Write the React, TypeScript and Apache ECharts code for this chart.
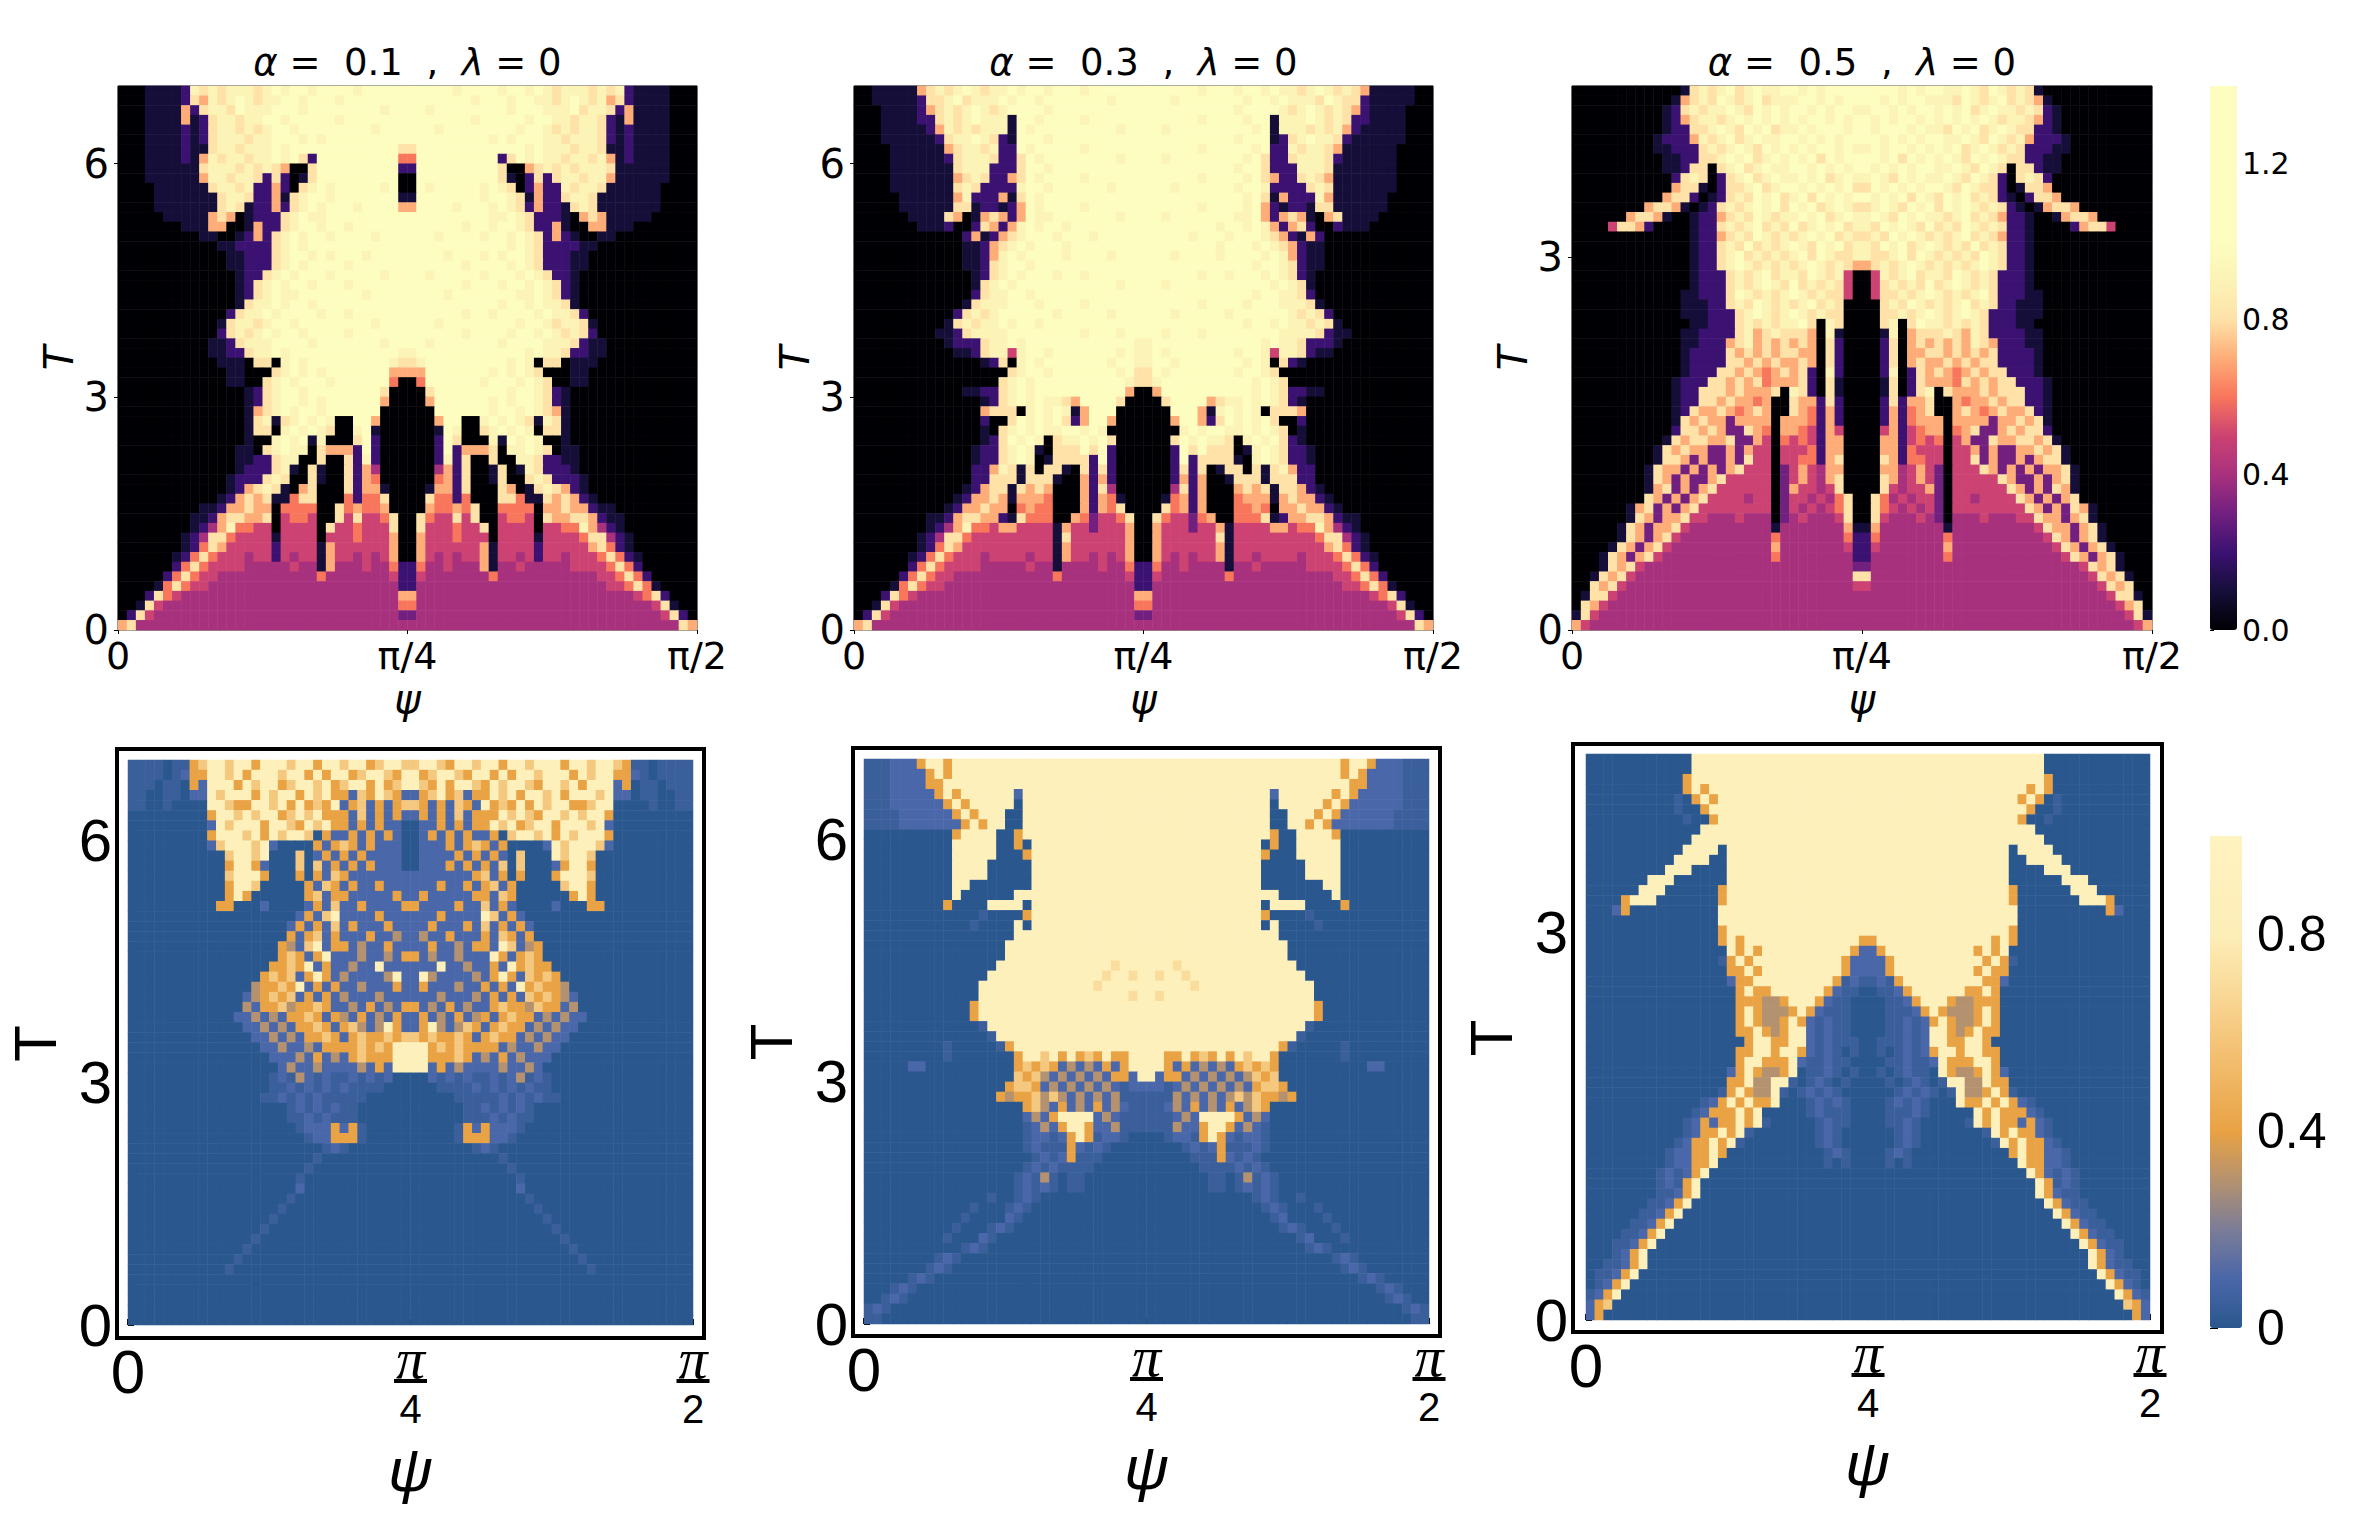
import React, { useEffect, useRef } from 'react';
import * as echarts from 'echarts';

// Cell codes: '.' = 0.05, digits = tenths, 'a' = top of the scale.
// Each panel is mirror-symmetric about psi = pi/4, so rows hold the left half only (32 cells).
const ALPHA_01 = [
  '00011112 98989998 9a9aa9aa aa9aaaaa', '00011112 87989a98 99aa9aaa 9aaaaaaa', '00011117 28998a99 9aaa9aaa aaaaa9aa', '00011117 12899899 aa9aaaaa 9aaaaaaa',
  '00011112 12899898 9aa9aaaa aaaa9aaa', '00011112 12899989 9aaa9a9a aaaaaaaa', '00011112 11899899 9a9aaaaa aaaaaaa8', '00011112 17989989 9a9a82aa aaaaaaa6',
  '00011111 18999898 987008aa aaaaaaa2', '00011111 17998998 282018aa aaaaaaa0', '00001111 11899892 272089a9 aaaaa9a0', '00001111 11189982 27189aa9 aaaaaaa1',
  '00001111 11189812 27289a9a aa9aaaa7', '00000111 11787012 2289a99a aaaaaaaa', '00000001 11770017 2289aa9a a9aaaaaa', '00000000 01100127 289a9aa9 aaaa9aaa',
  '00000000 00011222 289a9aaa aaaaaaaa', '00000000 00001122 289aa9a9 aaa9aaaa', '00000000 00001122 289a9aaa a9aaaaaa', '00000000 00000122 89a9aaa9 aaaaa9aa',
  '00000000 00000128 9a9aa9aa a9aaaaaa', '00000000 00000128 9a99aaaa aaa9aaaa', '00000000 00000189 9a9aa9aa aaaaaaaa', '00000000 00002899 a9aaaa9a a9aaaaaa',
  '00000000 00018998 9aa9aaaa aaaa9aaa', '00000000 00028989 a9aa9aaa a9aaaaaa', '00000000 00112899 9aaaa9aa aaaaa9aa', '00000000 00112289 9a9aaaaa aaaaaaa9',
  '00000000 00011108 809a9aaa aaaaaa98', '00000000 00001100 089a9a9a aaaaaa77', '00000000 00001100 89a9aaa9 aaaaaa60', '00000000 00000012 89aa9aaa aaaaa800',
  '00000000 00000012 89aa9a9a aaaaa700', '00000000 00000017 89a9aa9a aaaaa000', '00000000 00000018 9189a9a9 00aa7000', '00000000 00000018 809a9a98 009a1000',
  '00000000 00000010 09a9a190 008a2000', '00000000 00000110 89a99087 772a2000', '00000000 00000112 28990080 08292000', '00000000 00000122 28910810 08274000',
  '00000000 00001222 89800810 08276000', '00000000 00001278 98107800 08277100', '00000000 00012787 81168800 06266800', '00000000 01127787 70666600 86766700',
  '00000000 11278877 80566500 85855680', '00000000 12479665 50555508 55655580', '00000001 24886555 51555505 55655570', '00000001 26875555 52555517 55555570',
  '00000012 68655545 52545517 55454570', '00000026 86555544 44454417 44454462', '00000268 65544444 44444464 44444452', '00001686 55444444 44444444 44444442',
  '00028654 44444444 44444444 44444447', '00185444 44444444 44444444 44444446', '02854444 44444444 44444444 44444443', '78444444 44444444 44444444 44444444',
];

const ALPHA_03 = [
  '00111117 8989a989 9a9aa9aa a9aaaaaa', '00111112 889a8999 a9aa9aaa aaaa9aaa', '00011112 78989a98 9aaaa9aa aaaaaaaa', '00011112 28989a99 91aa9aaa a9aaaaaa',
  '00011111 27989899 91a9aaaa aaaaa9aa', '00011111 12899a98 21aaa9aa aaaaaaaa', '00001111 11789989 22a9aaaa a9aaaaaa', '00001111 11289998 228a9aaa aaaaa9aa',
  '00001111 11189992 228aa9aa aaaaaaaa', '00001111 11178982 278a9aaa a9aaaaaa', '00001111 11189822 229aa9aa aaaa9aaa', '00000111 11179222 718a9aaa aaaaaaaa',
  '00000111 11188122 127a9aaa a9aaaaaa', '00000011 11870178 727a99aa aaaaa9aa', '00000001 11200287 279a9aa9 aaaaaaaa', '00000000 00002712 789aaa9a aa9aaaaa',
  '00000000 00001127 89a9aaa9 aaaaaaaa', '00000000 00001127 9a9aaaa9 aaaa9aaa', '00000000 00001128 9aa9aaaa aaaaaaaa', '00000000 00000128 9a9aaa9a a9aaaaaa',
  '00000000 00000189 a9aaaaaa aaaaa9aa', '00000000 00000289 9aa9aaaa aaaaaaaa', '00000000 00001899 9aaa9aaa a9aaaaaa', '00000000 00028989 aaaaaa9a aaaa9aaa',
  '00000000 00189899 a9aa9aaa aaaaaaaa', '00000000 01128999 9aaaaaaa a9aaa9aa', '00000000 00122289 9a9aaaaa aaaaaaa9', '00000000 00011289 959aa9aa aaaaa9a9',
  '00000000 00000012 809a9aaa aaaa9aa9', '00000000 00000000 089aa9aa aaaaa9a8', '00000000 00000000 89a9aaaa aaaaaa98', '00000000 00001122 89a9aaaa aaaaaa70',
  '00000000 00000012 89a9a998 7aaaa800', '00000000 00000078 8809a9a9 17aaa000', '00000000 00000020 08a9a9a8 27aa7000', '00000000 00000010 89a9a99a a9a90000',
  '00000000 00000012 8a9a9089 9a9a8000', '00000000 00000122 89a91088 8a8a2000', '00000000 00000122 89a90188 882a2000', '00000000 00000227 98180881 08282000',
  '00000000 00000228 88188810 07272000', '00000000 00001278 81878700 07284000', '00000000 00012778 71777600 07276100', '00000000 00127787 70676600 07276800',
  '00000000 11278877 21866600 76355680', '00000000 12479665 77555517 55355570', '00000001 24886555 55555518 55555570', '00000001 26875555 55555517 55555570',
  '00000012 68655545 55545517 55454570', '00000026 86555544 44454414 44454462', '00000268 65544444 44444464 44444452', '00001686 55444444 44444444 44444442',
  '00028654 44444444 44444444 44444447', '00185444 44444444 44444444 44444446', '02854444 44444444 44444444 44444443', '78444444 44444444 44444444 44444444',
];

const ALPHA_05 = [
  '00000000 00001898 9a89a99a a9a9aaaa', '00000000 00017898 a989a899 9aa9a9aa', '00000000 00128989 9a98a9a9 aa9a9aa9', '00000000 00127899 89a9a9a9 a9aa9a9a',
  '00000000 00122889 a98a9a89 9a9aaa9a', '00000000 01222798 9a89a99a a9a9a9aa', '00000000 01122289 89a98a9a 9a9aa9a9', '00000000 00112288 9a9a89a9 a9a8a9aa',
  '00000000 00112880 89a89a99 aa9a9a9a', '00000000 00028980 289a89a9 9a9a89a9', '00000000 00078810 2889a89a a9a9a9a8', '00000000 00788201 2898a9a8 9a8a9a9a',
  '00000000 78871012 8989a9a8 a9a89a98', '00000078 87100122 7898a989 9a9a89a9', '00005887 20000122 8989a898 a89a9a89', '00000000 00000122 7898a989 89a9a898',
  '00000000 00000122 898a8989 a98a9a89', '00000000 00000122 89a89898 9a8a9889', '00000000 00000122 89a98989 89a98987', '00000000 00000122 28989a89 98a98950',
  '00000000 00000122 28989a98 a8989850', '00000000 00001122 28a98989 a9898850', '00000000 00001112 2898a989 89a89800', '00000000 00001112 2289a989 a9898800',
  '00000000 00000112 22898989 9a809800', '00000000 00001122 22897898 88709100', '00000000 00001122 27897878 78708200', '00000000 00001222 28787878 87708200',
  '00000000 00001222 28878787 78708200', '00000000 00001222 88787678 78209200', '00000000 00012228 87878677 78208100', '00000000 00012288 87877780 98208100',
  '00000000 00012288 78776700 87728200', '00000000 00012877 87678700 87627200', '00000000 00018787 73777707 77627200', '00000000 00028878 73387607 76527500',
  '00000000 00187887 78337506 56527700', '00000000 01878773 37375505 55627700', '00000000 01887373 37385505 56627800', '00000000 18773737 37855503 57547700',
  '00000000 18737337 85555503 57547800', '00000000 17837378 55555503 75545800', '00000000 87373785 55545503 55454680', '00000017 83737855 55555503 54545680',
  '00000018 73778554 44544403 45444580', '00000187 37785444 44444414 44444471', '00000187 37854444 44444464 44444462', '00001873 78544444 44444474 44444452',
  '00018737 85444444 44444464 44444442', '00018785 44444444 44444444 44444443', '00187854 44444444 44444444 44444448', '00878544 44444444 44444444 44444445',
  '01885444 44444444 44444444 44444444', '08754444 44444444 44444444 44444444', '18544444 44444444 44444444 44444444', '75444444 44444444 44444444 44444444',
];

const FRACTION_01 = [
  '....0..4 69969949 99699499 69946996', '....0.14 49969499 96994949 94699649', '...0..04 19994969 94699694 69949469', '..00..01 19699949 69949694 41649641',
  '..00.000 09964499 69494649 14614146', '00000000 04996969 94696944 41614141', '00000000 01969994 99649694 41414110', '00000000 04999694 96996041 14141410',
  '00000000 01699969 10000414 64141110', '00000000 00069969 00060141 41411110', '00000000 00049941 00060614 14141110', '00000000 00069994 00040416 41111111',
  '00000000 00049960 00004164 14114111', '00000000 00049400 00004614 41111141', '00000000 00440001 00001416 11411114', '00000000 00000000 00014169 11114111',
  '00000000 00000000 00141416 14111411', '00000000 00000000 00414614 11141131', '00000000 00000000 04316914 41311411', '00000000 00000000 04641491 11311314',
  '00000000 00000000 44649141 13119111', '00000000 00000004 64614941 31111391', '00000000 00000034 46491414 11311141', '00000000 00000134 64614141 31113111',
  '00000000 00000314 46344641 13141314', '00000000 00001131 31446414 31413141', '00000000 00000113 13144641 46313941', '00000000 00000011 31314464 14644646',
  '00000000 00000001 13113144 44646499', '00000000 00000000 11131413 14644499', '00000000 00000000 01311311 11314199', '00000000 00000000 .1.31.1. .1.1.100',
  '00000000 00000000 ..1.1.1. 1....000', '00000000 0000000. .1.1.1.. ...00000', '00000000 00000000 00.1.1.1 ..000000', '00000000 00000000 00..1.1. ..000000',
  '00000000 00000000 000.1114 14.00000', '00000000 00000000 0000.114 44.00000', '00000000 00000000 000000.1 .0000000', '00000000 00000000 00000.00 00000000',
  '00000000 00000000 0000.000 00000000', '00000000 00000000 000.0000 00000000', '00000000 00000000 00010000 00000000', '00000000 00000000 00.00000 00000000',
  '00000000 00000000 0.000000 00000000', '00000000 00000000 .0000000 00000000', '00000000 0000000. 00000000 00000000', '00000000 000000.0 00000000 00000000',
  '00000000 00000.00 00000000 00000000', '00000000 0000.000 00000000 00000000', '00000000 000.0000 00000000 00000000', '00000000 00000000 00000000 00000000',
  '00000000 00000000 00000000 00000000', '00000000 00000000 00000000 00000000', '00000000 00000000 00000000 00000000', '00000000 00000000 00000000 00000000',
];

const FRACTION_03 = [
  '...11149 94999999 99999999 99999999', '...11114 94999999 99999999 99999999', '...11114 49999999 99999999 99999999', '...11111 49499999 91999999 99999999',
  '...11111 14949999 90999999 99999999', '....1111 11494999 00999999 99999999', '....1111 11149499 00999999 99999999', '00000000 00499990 04999999 99999999',
  '00000000 00999990 04099999 99999999', '00000000 00999990 00499999 99999999', '00000000 00999900 00099999 99999999', '00000000 00999900 00099999 99999999',
  '00000000 00990000 00099999 99999999', '00000000 00900000 09999999 99999999', '00000000 04000099 99099999 99999999', '00000000 00000.00 00499999 99999999',
  '00000000 0000.000 09099999 99999999', '00000000 00000000 09999999 99999999', '00000000 00000000 99999999 99999999', '00000000 00000000 99999999 99999999',
  '00000000 00000009 99999999 99997999', '00000000 00000099 99999999 99979979', '00000000 00000999 99999999 99799999', '00000000 00000999 99999999 99999979',
  '00000000 00004999 99999999 99999999', '00000000 00004999 99999999 99999999', '00000000 00000.99 99999999 99999999', '00000000 000000.9 99999999 99999999',
  '00000000 0.00000. 49999999 99999999', '00000000 0.000000 04996949 46494499', '00000110 00000000 04646413 13141499', '00000000 00000000 06463131 31314419',
  '00000000 00000000 46641313 13131.11', '00000000 00000004 34463631 31313...', '00000000 00000000 00463141 314131..', '00000000 00000000 00131499 99131...',
  '00000000 00000000 00.13149 94113...', '00000000 00000000 00.11.14 94.11.00', '00000000 00000000 00.1...4 1.1.0000', '00000000 00000000 000.1.14 ...00000',
  '00000000 00000000 00.1.1.. ..000000', '00000000 00000000 0.1.3.0. .0000000', '00000000 00000000 0.1.1.0. .0000000', '00000000 000000.0 0.1.0000 00000000',
  '00000000 0000.000 .1.00000 00000000', '00000000 000.0000 1.000000 00000000', '00000000 00.000.1 .0000000 00000000', '00000000 0.0001.0 00000000 00000000',
  '00000000 000.1.00 00000000 00000000', '00000000 .1.00000 00000000 00000000', '0000000. 1.000000 00000000 00000000', '00000.1. 00000000 00000000 00000000',
  '000.1.00 00000000 00000000 00000000', '00.1.000 00000000 00000000 00000000', '.1.00000 00000000 00000000 00000000', '..000000 00000000 00000000 00000000',
];

const FRACTION_05 = [
  '00000000 00009999 99999999 99999999', '00000000 00009999 99999999 99999999', '00000000 00049999 99999999 99999999', '00000000 00049499 99999999 99999999',
  '00000000 00.04949 99999999 99999999', '00000000 00.00499 99999999 99999999', '00000000 000.0049 99999999 99999999', '00000000 00000999 99999999 99999999',
  '00000000 00009999 99999999 99999999', '00000000 00099990 99999999 99999999', '00000000 00999900 99999999 99999999', '00000000 09990000 99999999 99999999',
  '00000009 99000000 99999999 99999999', '00000099 90000004 99999999 99999999', '00004999 00000004 99999999 99999999', '00014000 00000009 99999999 99999999',
  '00000000 00000009 99999999 99999999', '00000000 00000004 99999999 99999999', '00000000 00000004 94999999 99999994', '00000000 00000000 94949999 99999941',
  '00000000 0000000. 49499999 99999411', '00000000 00000000 44949999 99999411', '00000000 00000000 14499999 99994.1.', '00000000 00000000 04944999 99941..0',
  '00000000 00000000 04443349 9941..00', '00000000 00000000 04943334 941...00', '00000000 00000000 04943349 41.1..00', '00000000 00000000 04494349 91.1..00',
  '00000000 00000000 00499449 91.1...0', '00000000 00000000 04499499 41.1.0.0', '00000000 00000000 04994449 1..1..00', '00000000 00000000 14943349 0..1.0.0',
  '00000000 00000000 4493399. 0.1.0.00', '00000000 0000000. 494339.0 .1.1.000', '00000000 00000.14 94944900 0.1.1.00', '00000000 0000.144 49490000 0.1...00',
  '00000000 000.1414 4949.000 00.1..00', '00000000 000.1449 49.00000 00.1.000', '00000000 00.14494 9.000000 00.1.000', '00000000 0.114494 00000000 000.1.00',
  '00000000 0.114490 00000000 000.0.00', '00000000 .1.14900 00000000 00000000', '00000000 .1.49000 00000000 00000000', '00000000 ..149000 00000000 00000000',
  '0000000. .1490000 00000000 00000000', '000000.. 14900000 00000000 00000000', '00000..1 49000000 00000000 00000000', '0000..14 90000000 00000000 00000000',
  '000..149 00000000 00000000 00000000', '000.1490 00000000 00000000 00000000', '00..1490 00000000 00000000 00000000', '0..14900 00000000 00000000 00000000',
  '0.149000 00000000 00000000 00000000', '.1490000 00000000 00000000 00000000', '14600000 00000000 00000000 00000000', '14000000 00000000 00000000 00000000',
];

const ALPHA_TITLES = ['0.1', '0.3', '0.5'];
const T_TICKS = [[0, 3, 6], [0, 3, 6], [0, 3]];
const T_MAX = [7, 7, 4.38];
const PSI_MAX = Math.PI / 2;
const PSI_TICKS = [0, Math.PI / 4, PSI_MAX];
const TOP_BAR_TICKS = [0, 0.4, 0.8, 1.2];
const BOTTOM_BAR_TICKS = [0, 0.4, 0.8];

const MAGMA = ['#000004', '#150e38', '#3b1172', '#72207f', '#a8317e', '#cc4272', '#f8765c', '#fead78', '#fee2a8', '#fcf3b6', '#fcfdbf', '#fcfdbf', '#fcfdbf', '#fcfdbf', '#fcfdbf'];
const SANDS = ['#2a578d', '#4a67a9', '#7b7c97', '#b4926f', '#e9a244', '#efb561', '#f5c87f', '#fadc9c', '#fdeeb8', '#fef0bb', '#fff3c0'];

// layout in page pixels
const TOP_LAYOUT = [
  { left: 118, width: 579, top: 86, height: 544 },
  { left: 854, width: 579, top: 86, height: 544 },
  { left: 1572, width: 580, top: 86, height: 544 },
];
const BOTTOM_FRAMES = [
  { left: 117, width: 587, top: 749, height: 589 },
  { left: 853, width: 587, top: 748, height: 588 },
  { left: 1573, width: 589, top: 744, height: 588 },
];
const BOTTOM_HEATS = [
  { left: 128, width: 565, top: 760, height: 565 },
  { left: 864, width: 565, top: 759, height: 565 },
  { left: 1586, width: 564, top: 754, height: 566 },
];

const cellValue = (ch: string) => {
  if (ch === '.') return 0.05;
  if (ch === 'a') return 1.2;
  return Number(ch) / 10;
};

const rowsToCells = (rows: string[]) => {
  const out: number[][] = [];
  rows.forEach((row, r) => {
    const half = row.replace(/ /g, '').split('');
    const full = half.concat([...half].reverse());
    full.forEach((ch, c) => out.push([c, rows.length - 1 - r, cellValue(ch)]));
  });
  return out;
};

const indexList = (n: number) => Array.from({ length: n }, (_, i) => String(i));

const psiFraction = (v: number) => {
  if (v < 0.1) return '{z|0}';
  return v < 1 ? '{n|π}\n{l|}\n{d|4}' : '{n|π}\n{l|}\n{d|2}';
};

const buildOption = (): echarts.EChartsOption => {
  const grid: any[] = [];
  const xAxis: any[] = [];
  const yAxis: any[] = [];
  const series: any[] = [];
  const title: any[] = [];

  const addHeat = (rows: string[], box: any, border: any) => {
    const gridIndex = grid.length;
    grid.push({ ...box, show: true, ...border });
    xAxis.push({ type: 'category', gridIndex, show: false, data: indexList(64) });
    yAxis.push({ type: 'category', gridIndex, show: false, data: indexList(rows.length) });
    series.push({
      type: 'heatmap',
      xAxisIndex: xAxis.length - 1,
      yAxisIndex: yAxis.length - 1,
      data: rowsToCells(rows),
      progressive: 0,
      emphasis: { disabled: true },
      silent: true,
    });
    return gridIndex;
  };

  // top row: magma maps with thin frame and outward ticks
  [ALPHA_01, ALPHA_03, ALPHA_05].forEach((rows, i) => {
    const box = TOP_LAYOUT[i];
    const gridIndex = addHeat(rows, box, { borderColor: '#222', borderWidth: 1 });
    xAxis.push({
      type: 'value', gridIndex, min: 0, max: PSI_MAX, position: 'bottom',
      axisLine: { show: false },
      axisTick: { show: true, length: 4, customValues: PSI_TICKS, lineStyle: { color: '#000' } },
      axisLabel: {
        color: '#000', fontFamily: 'DejaVu Sans', fontSize: 38, lineHeight: 28, margin: 12, customValues: PSI_TICKS,
        formatter: (v: number) => (v < 0.1 ? '0' : v < 1 ? 'π/4' : 'π/2'),
      },
      splitLine: { show: false },
      name: 'ψ', nameLocation: 'middle', nameGap: 69,
      nameTextStyle: { color: '#000', fontFamily: 'DejaVu Sans', fontStyle: 'italic', fontSize: 40, verticalAlign: 'middle' },
    });
    yAxis.push({
      type: 'value', gridIndex, min: 0, max: T_MAX[i], position: 'left',
      axisLine: { show: false },
      axisTick: { show: true, length: 4, customValues: T_TICKS[i], lineStyle: { color: '#000' } },
      axisLabel: { color: '#000', fontFamily: 'DejaVu Sans', fontSize: 40, lineHeight: 24, margin: 9, customValues: T_TICKS[i] },
      splitLine: { show: false },
      name: 'T', nameLocation: 'middle', nameGap: 59, nameRotate: 90,
      nameTextStyle: { color: '#000', fontFamily: 'DejaVu Sans', fontStyle: 'italic', fontSize: 40, verticalAlign: 'middle' },
    });
    title.push({
      text: `{i|α} =  ${ALPHA_TITLES[i]}  ,  {i|λ} = 0`,
      left: box.left + box.width / 2, top: 44, textAlign: 'center', padding: 0,
      textStyle: {
        color: '#000', fontFamily: 'DejaVu Sans', fontWeight: 'normal', fontSize: 37,
        rich: { i: { fontStyle: 'italic', fontFamily: 'DejaVu Sans', fontSize: 37, color: '#000' } },
      },
    });
  });

  // bottom row: heat area inset in a heavy frame, ticks inside the frame
  [FRACTION_01, FRACTION_03, FRACTION_05].forEach((rows, i) => {
    const frame = BOTTOM_FRAMES[i];
    const heat = BOTTOM_HEATS[i];
    addHeat(rows, heat, { borderWidth: 0 });
    const gridIndex = grid.length;
    grid.push({ ...frame, show: true, borderColor: '#000', borderWidth: 4, z: 3 });
    const psiPerPx = PSI_MAX / heat.width;
    const tPerPx = T_MAX[i] / heat.height;
    xAxis.push({
      type: 'value', gridIndex, position: 'bottom',
      min: (frame.left - heat.left) * psiPerPx,
      max: (frame.left + frame.width - heat.left) * psiPerPx,
      axisLine: { show: false },
      axisTick: { show: true, inside: true, length: 6, customValues: PSI_TICKS, lineStyle: { color: '#000', width: 2 } },
      axisLabel: {
        customValues: PSI_TICKS, margin: 2, color: '#000', formatter: psiFraction,
        rich: {
          z: { fontFamily: 'Liberation Sans', fontSize: 62, color: '#000' },
          n: { fontFamily: 'Liberation Serif', fontStyle: 'italic', fontSize: 58, lineHeight: 36, color: '#000', align: 'center' },
          l: { width: 33, height: 4, lineHeight: 10, backgroundColor: '#000', align: 'center' },
          d: { fontFamily: 'Liberation Sans', fontSize: 40, lineHeight: 46, color: '#000', align: 'center' },
        },
      },
      splitLine: { show: false },
      name: 'ψ', nameLocation: 'middle', nameGap: 131,
      nameTextStyle: { color: '#000', fontFamily: 'Liberation Sans', fontStyle: 'italic', fontSize: 62, verticalAlign: 'middle' },
    });
    yAxis.push({
      type: 'value', gridIndex, position: 'left',
      min: -(frame.top + frame.height - heat.top - heat.height) * tPerPx,
      max: (heat.top + heat.height - frame.top) * tPerPx,
      axisLine: { show: false },
      axisTick: { show: true, inside: true, length: 6, customValues: T_TICKS[i], lineStyle: { color: '#000', width: 2 } },
      axisLabel: { customValues: T_TICKS[i], margin: 5, color: '#000', fontFamily: 'Liberation Sans', fontSize: 60 },
      splitLine: { show: false },
      name: 'T', nameLocation: 'middle', nameGap: 82, nameRotate: 90,
      nameTextStyle: { color: '#000', fontFamily: 'Liberation Sans', fontSize: 60, lineHeight: 60, verticalAlign: 'middle' },
    });
  });

  // colour bar tick axes
  const addBarAxis = (box: any, max: number, ticks: number[], fontSize: number, family: string, fmt: (v: number) => string, tickLen: number, margin: number) => {
    const gridIndex = grid.length;
    grid.push({ ...box, show: false });
    xAxis.push({ type: 'value', gridIndex, min: 0, max: 1, show: false });
    yAxis.push({
      type: 'value', gridIndex, min: 0, max, position: 'right',
      axisLine: { show: false },
      axisTick: { show: true, length: tickLen, customValues: ticks, lineStyle: { color: '#000' } },
      axisLabel: { customValues: ticks, margin, color: '#000', fontFamily: family, fontSize, formatter: fmt },
      splitLine: { show: false },
    });
  };
  addBarAxis({ left: 2210, width: 27, top: 86, height: 544 }, 1.4, TOP_BAR_TICKS, 30, 'DejaVu Sans', (v) => v.toFixed(1), 4, 5);
  addBarAxis({ left: 2210, width: 32, top: 836, height: 492 }, 1.0, BOTTOM_BAR_TICKS, 50, 'Liberation Sans', (v) => (v === 0 ? '0' : v.toFixed(1)), 8, 15);

  return {
    animation: false,
    backgroundColor: '#fff',
    title,
    grid,
    xAxis,
    yAxis,
    series,
    visualMap: [
      {
        type: 'continuous', min: 0, max: 1.4, seriesIndex: [0, 1, 2], dimension: 2, inRange: { color: MAGMA },
        left: 2210, top: 86, itemWidth: 27, itemHeight: 544, padding: 0, calculable: false, hoverLink: false, text: [],
      },
      {
        type: 'continuous', min: 0, max: 1, seriesIndex: [3, 4, 5], dimension: 2, inRange: { color: SANDS },
        left: 2210, top: 836, itemWidth: 32, itemHeight: 492, padding: 0, calculable: false, hoverLink: false, text: [],
      },
    ],
  };
};

export default function App() {
  const ref = useRef<HTMLDivElement>(null);

  useEffect(() => {
    if (!ref.current) return;
    const chart = echarts.init(ref.current, undefined, { renderer: 'svg' });
    chart.setOption(buildOption());
    return () => chart.dispose();
  }, []);

  return <div ref={ref} style={{ position: 'absolute', left: 0, top: 0, width: 2356, height: 1522 }} />;
}
